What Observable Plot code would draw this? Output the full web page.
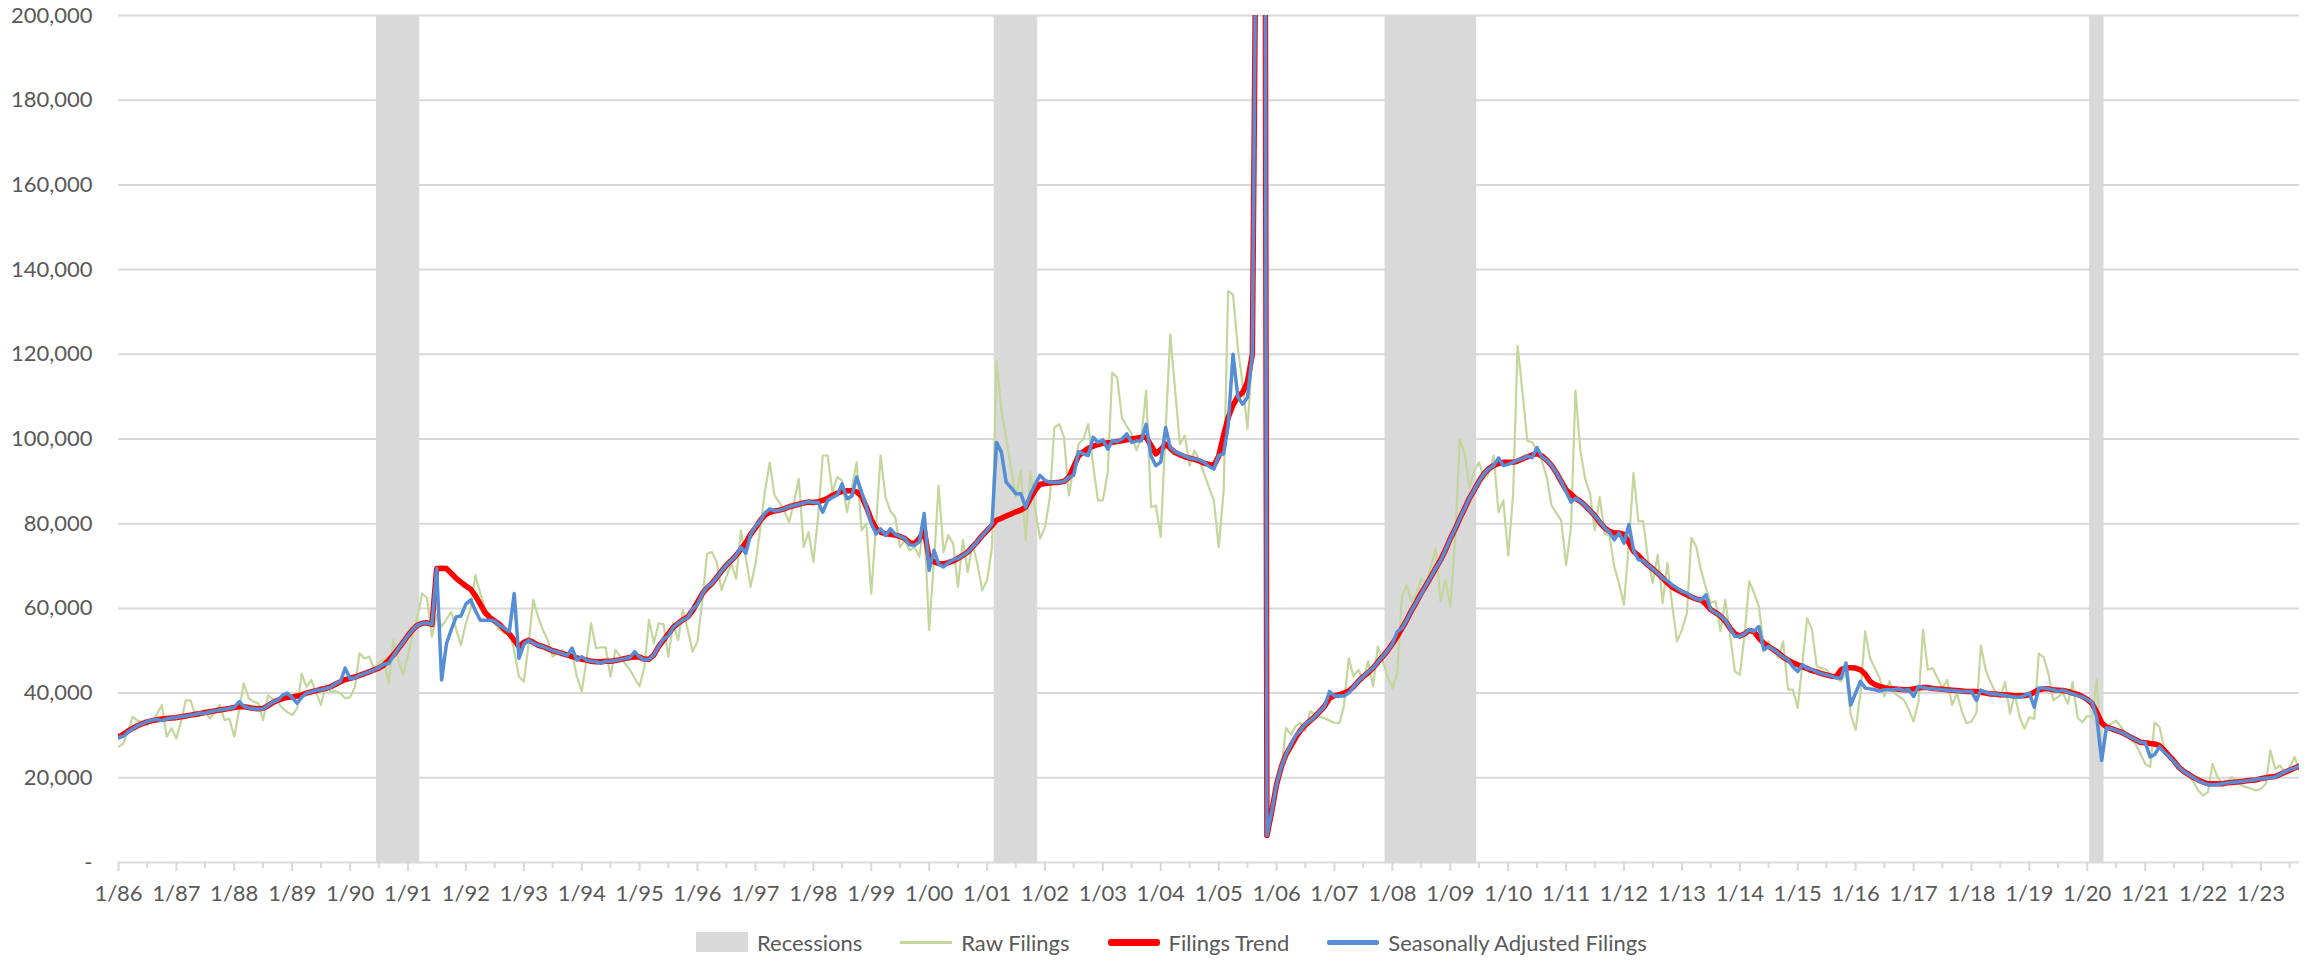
<!DOCTYPE html>
<html>
<head>
<meta charset="utf-8">
<script src="https://cdn.jsdelivr.net/npm/d3@7"></script>
<script src="https://cdn.jsdelivr.net/npm/@observablehq/plot@0.6"></script>
<style>
  html, body { margin: 0; padding: 0; background: #ffffff; }
  body { width: 2323px; height: 962px; overflow: hidden; font-family: Lato, "Open Sans", sans-serif; }
  #legend { display: flex; align-items: center; height: 30px; margin-left: 696px; margin-top: 12px; font-size: 22px; color: #595959; }
  .item { display: flex; align-items: center; margin-right: 38px; }
  .sw { width: 52px; margin-right: 9px; }
</style>
</head>
<body>
<div id="chart"></div>
<div id="legend"></div>
<script>
// Monthly series, in thousands of filings, starting January 1986 (one row per year)
const startMonth = "1986-01";

const rawFilings = [
  27.3, 28.1, 31.0, 34.4, 33.5, 33.2, 32.5, 33.2, 35.0, 37.2, 29.7, 31.7,
  29.3, 33.5, 38.3, 38.3, 34.4, 35.0, 35.6, 34.0, 35.5, 37.2, 33.6, 34.0,
  29.7, 36.0, 42.3, 38.8, 38.0, 37.6, 33.6, 39.5, 38.5, 37.8, 36.4, 35.5,
  34.8, 36.4, 44.6, 41.5, 43.1, 40.0, 37.2, 42.0, 40.3, 40.5, 39.9, 38.8,
  39.0, 41.5, 49.4, 48.2, 48.6, 45.8, 47.0, 48.0, 42.3, 52.5, 48.0, 44.3,
  49.0, 54.1, 58.0, 63.5, 62.4, 53.3, 58.5, 55.7, 57.5, 59.2, 55.0, 51.3,
  56.5, 60.0, 67.9, 63.5, 60.0, 58.5, 56.5, 55.0, 54.1, 55.0, 50.0, 43.9,
  42.7, 52.0, 62.0, 58.0, 54.9, 52.5, 48.6, 49.5, 50.2, 49.0, 49.5, 43.9,
  40.4, 48.0, 56.5, 50.6, 50.8, 50.8, 43.9, 50.2, 48.6, 47.0, 45.5, 43.5,
  41.6, 46.3, 57.3, 51.8, 56.5, 56.3, 48.6, 56.5, 52.5, 59.6, 54.9, 49.8,
  52.2, 62.0, 72.9, 73.3, 71.0, 64.3, 67.5, 70.6, 67.0, 78.4, 72.0, 65.1,
  70.6, 79.0, 87.5, 94.5, 86.7, 85.0, 83.1, 80.4, 85.0, 90.6, 74.5, 78.0,
  71.0, 82.0, 96.1, 96.1, 87.5, 91.0, 90.2, 82.7, 88.5, 94.5, 78.4, 80.0,
  63.5, 80.0, 96.1, 86.3, 83.0, 81.6, 74.5, 76.0, 73.7, 74.5, 72.2, 80.8,
  54.9, 71.4, 89.0, 73.3, 77.3, 75.3, 65.1, 76.1, 68.6, 75.3, 70.5, 64.3,
  66.7, 74.5, 118.4, 106.7, 100.4, 92.9, 86.3, 92.5, 76.1, 92.2, 83.1, 76.5,
  79.2, 86.3, 102.7, 103.5, 100.4, 86.7, 93.3, 98.8, 100.0, 103.5, 93.7, 85.5,
  85.5, 92.2, 115.7, 114.5, 105.1, 103.0, 101.2, 97.3, 100.4, 111.4, 83.9, 84.3,
  76.9, 102.0, 124.7, 111.4, 98.8, 100.8, 93.7, 97.3, 95.0, 91.8, 88.5, 85.5,
  74.5, 87.8, 134.9, 134.1, 121.6, 112.9, 102.4, 120.0, 260.0, 620.0, 6.4, 10.0,
  17.0, 22.0, 31.8, 30.2, 32.2, 32.9, 31.0, 35.7, 35.0, 34.4, 34.0, 33.5,
  33.0, 32.9, 36.9, 48.2, 43.9, 45.5, 43.1, 47.5, 41.6, 51.0, 47.8, 44.0,
  41.2, 44.7, 62.7, 65.5, 61.6, 63.5, 67.0, 65.9, 70.0, 74.1, 61.6, 66.7,
  60.4, 76.9, 100.0, 96.5, 88.6, 92.5, 94.5, 90.6, 91.8, 96.1, 82.7, 85.5,
  72.5, 87.1, 122.0, 111.0, 99.6, 99.2, 97.3, 94.9, 91.0, 84.3, 82.5, 80.8,
  70.2, 79.2, 111.4, 97.3, 90.6, 87.1, 78.4, 86.3, 77.6, 77.3, 69.8, 65.9,
  60.9, 75.3, 92.0, 80.6, 80.6, 71.5, 66.0, 72.7, 61.3, 70.7, 60.5, 52.2,
  55.0, 58.9, 76.6, 74.6, 69.0, 64.8, 61.3, 61.7, 54.6, 62.0, 53.4, 45.1,
  44.3, 54.2, 66.4, 63.6, 60.5, 51.0, 52.2, 50.0, 48.3, 52.2, 40.8, 40.8,
  36.5, 47.5, 57.7, 55.0, 46.3, 45.9, 45.5, 43.9, 43.5, 42.8, 44.7, 35.0,
  31.3, 40.0, 54.6, 48.3, 45.9, 43.5, 39.2, 42.8, 40.0, 39.2, 38.4, 36.1,
  33.3, 38.0, 55.0, 45.5, 45.9, 43.5, 41.2, 43.1, 37.2, 40.0, 35.7, 32.9,
  33.3, 35.3, 51.3, 45.4, 42.6, 40.2, 39.0, 42.6, 35.1, 39.8, 34.3, 31.6,
  34.3, 33.9, 49.3, 48.5, 44.6, 38.3, 39.1, 40.0, 37.5, 42.6, 34.3, 33.1,
  34.6, 34.3, 43.1, 24.9, 32.0, 32.8, 33.5, 32.0, 30.4, 29.0, 28.0, 25.7,
  23.3, 22.5, 33.1, 32.0, 26.9, 24.9, 23.5, 22.5, 21.8, 20.6, 19.0, 17.0,
  15.8, 16.6, 23.3, 20.2, 18.6, 19.0, 20.2, 19.0, 18.2, 17.8, 17.4, 17.0,
  17.4, 18.6, 26.5, 22.1, 22.9, 21.3, 22.5, 24.9, 21.7
];

const filingsTrend = [
  29.7, 30.3, 31.0, 31.7, 32.3, 32.8, 33.2, 33.5, 33.7, 33.9, 34.0, 34.1,
  34.2, 34.4, 34.6, 34.8, 35.0, 35.2, 35.4, 35.6, 35.8, 36.0, 36.2, 36.4,
  36.6, 36.8, 36.8, 36.6, 36.4, 36.3, 36.4, 37.0, 37.8, 38.3, 38.7, 39.0,
  39.1, 39.3, 39.6, 40.0, 40.3, 40.6, 40.9, 41.1, 41.5, 42.1, 42.7, 43.2,
  43.5, 43.8, 44.2, 44.6, 45.0, 45.5, 45.9, 46.6, 47.8, 49.0, 50.5, 52.0,
  53.6, 55.0, 56.0, 56.5, 56.6, 56.2, 69.4, 69.5, 69.4, 68.3, 67.1, 66.2,
  65.3, 64.5, 63.0, 61.0, 59.0, 57.8, 57.0, 56.2, 55.0, 54.0, 52.5, 51.0,
  52.0, 52.5, 52.0, 51.3, 51.0, 50.5, 50.0, 49.7, 49.3, 49.0, 48.6, 48.3,
  48.0, 47.8, 47.5, 47.4, 47.4, 47.5, 47.5, 47.7, 47.9, 48.2, 48.4, 48.6,
  48.5, 48.0, 48.0, 49.0, 51.0, 52.5, 54.0, 55.5, 56.5, 57.3, 58.0, 59.5,
  61.5, 63.5, 64.8, 65.9, 67.3, 68.8, 70.2, 71.3, 72.5, 74.0, 75.5, 77.5,
  79.0, 80.8, 82.0, 82.7, 83.0, 83.2, 83.5, 84.0, 84.3, 84.6, 84.9, 85.1,
  85.0, 85.2, 85.5, 86.0, 86.7, 87.2, 87.6, 87.8, 87.8, 87.5, 86.5, 84.0,
  81.0, 78.8, 78.0, 77.6, 77.5, 77.3, 77.0, 76.5, 75.5, 75.3, 76.5, 78.5,
  71.8, 71.0, 70.6, 70.5, 70.8, 71.2, 71.8, 72.5, 73.3, 74.5, 75.8, 77.2,
  78.4, 79.6, 80.8, 81.3, 81.8, 82.3, 82.8, 83.2, 83.9, 86.0, 88.0, 89.3,
  89.5, 89.6, 89.7, 89.8, 90.0, 91.0, 93.5, 96.0, 97.0, 97.8, 98.3, 98.7,
  99.0, 99.1, 99.2, 99.4, 99.6, 99.8, 100.0, 100.2, 100.4, 100.4, 98.5, 96.5,
  97.5, 98.8, 97.8, 96.8, 96.3, 95.8, 95.5, 95.2, 94.8, 94.3, 94.0, 93.7,
  96.0, 101.0, 105.0, 108.0, 110.0, 111.0, 113.5, 120.0, 260.0, 620.0, 6.4, 12.0,
  18.5, 22.7, 25.5, 27.5, 29.5, 31.2, 32.5, 33.5, 34.5, 35.7, 37.0, 38.8,
  39.4, 39.6, 40.0, 40.5, 41.5, 42.8, 43.9, 44.8, 45.9, 47.3, 48.6, 50.0,
  51.6, 53.4, 55.3, 57.3, 59.5, 61.5, 63.6, 65.5, 67.5, 69.5, 71.5, 73.8,
  76.5, 78.8, 81.2, 83.6, 86.0, 88.0, 90.0, 91.8, 93.0, 93.7, 94.2, 94.5,
  94.5, 94.5, 94.8, 95.3, 95.8, 96.2, 96.6, 96.0, 95.0, 93.8, 92.0, 90.0,
  88.0, 87.0, 86.0, 85.3, 84.3, 83.1, 81.9, 80.3, 79.0, 78.2, 77.8, 77.8,
  77.5, 75.5, 73.5, 72.5, 71.3, 70.2, 69.3, 68.3, 67.2, 66.0, 65.0, 64.4,
  63.8, 63.2, 62.7, 62.2, 62.0, 61.0, 59.7, 59.0, 58.2, 57.0, 55.3, 54.0,
  53.5, 54.0, 54.8, 54.5, 53.0, 51.8, 51.0, 50.3, 49.5, 48.5, 47.8, 47.2,
  46.7, 46.2, 45.8, 45.3, 45.0, 44.6, 44.3, 44.0, 43.9, 45.5, 46.0, 46.0,
  45.9, 45.5, 44.5, 42.8, 42.0, 41.6, 41.3, 41.1, 41.0, 40.9, 40.8, 40.8,
  41.0, 41.2, 41.3, 41.3, 41.1, 41.0, 40.9, 40.8, 40.7, 40.6, 40.5, 40.4,
  40.4, 40.4, 40.2, 40.0, 39.8, 39.8, 39.6, 39.6, 39.5, 39.4, 39.4, 39.4,
  39.6, 40.2, 40.8, 41.0, 41.0, 40.8, 40.7, 40.6, 40.4, 40.0, 39.7, 39.2,
  38.5, 37.5, 35.5, 33.0, 32.0, 31.6, 31.2, 30.8, 30.2, 29.6, 29.0, 28.4,
  28.3, 28.1, 28.0, 27.6, 26.5, 25.2, 24.0, 22.5, 21.5, 20.8, 20.1, 19.5,
  19.0, 18.6, 18.6, 18.6, 18.6, 18.8, 18.9, 19.0, 19.1, 19.3, 19.4, 19.5,
  19.8, 20.0, 20.2, 20.3, 20.8, 21.3, 21.8, 22.3, 22.8
];

const seasonallyAdjusted = [
  29.5, 29.8, 30.8, 31.6, 32.3, 32.8, 33.3, 33.6, 33.8, 33.5, 33.9, 34.1,
  34.2, 34.5, 34.6, 34.8, 35.0, 35.3, 35.2, 35.6, 35.8, 36.0, 36.2, 36.4,
  36.6, 38.0, 36.9, 36.5, 36.3, 36.2, 36.3, 37.1, 37.9, 38.3, 39.5, 40.0,
  38.9, 37.6, 39.0, 40.0, 40.3, 40.7, 40.8, 41.1, 41.4, 42.2, 42.8, 45.9,
  43.4, 43.6, 44.2, 44.6, 45.0, 45.5, 46.0, 46.8, 47.0, 48.8, 50.5, 52.0,
  53.6, 55.0, 56.0, 56.5, 56.6, 56.2, 69.4, 43.1, 51.7, 55.0, 58.0, 58.2,
  61.0, 62.0, 59.5, 57.2, 57.2, 57.2, 57.0, 56.0, 55.3, 54.5, 63.5, 48.2,
  51.5, 52.5, 51.8, 51.3, 51.0, 50.5, 50.0, 49.7, 49.3, 48.9, 50.6, 47.8,
  48.6, 47.8, 47.5, 47.4, 47.0, 47.5, 47.5, 47.7, 47.9, 48.2, 48.4, 49.8,
  48.5, 47.8, 48.0, 49.0, 51.0, 52.8, 53.5, 55.5, 56.5, 57.3, 57.8, 59.8,
  61.0, 63.5, 65.0, 65.9, 67.3, 68.8, 70.2, 71.3, 72.5, 74.5, 73.0, 77.5,
  79.3, 80.8, 82.5, 83.5, 83.0, 83.2, 83.5, 84.0, 84.3, 84.6, 84.9, 85.2,
  85.0, 85.0, 82.7, 85.5, 86.2, 86.8, 89.4, 85.9, 86.5, 91.0, 87.5, 84.0,
  80.0, 77.6, 78.8, 77.2, 78.8, 77.5, 77.0, 76.5, 75.0, 74.9, 75.7, 82.4,
  69.0, 73.7, 70.5, 69.8, 70.8, 71.5, 71.8, 72.5, 73.3, 74.5, 75.8, 77.2,
  78.5, 80.0, 99.2, 96.9, 89.8, 88.5, 87.1, 87.1, 83.9, 87.0, 89.4, 91.4,
  90.2, 89.8, 89.8, 89.8, 90.0, 91.0, 91.4, 97.0, 96.5, 96.1, 100.4, 99.2,
  99.8, 97.6, 99.6, 99.4, 100.0, 101.2, 99.2, 99.5, 99.6, 103.5, 96.0, 93.7,
  94.5, 102.7, 98.0, 97.0, 96.5, 96.0, 95.5, 95.3, 95.0, 94.5, 93.5, 92.9,
  96.1, 96.5, 103.0, 120.0, 110.0, 108.2, 109.8, 120.0, 260.0, 620.0, 6.4, 12.0,
  18.5, 22.7, 25.5, 27.8, 30.0, 31.2, 32.7, 33.5, 34.5, 35.7, 37.0, 40.4,
  39.3, 39.4, 39.3, 40.0, 41.5, 42.8, 43.9, 45.0, 45.9, 47.3, 48.6, 50.0,
  51.6, 54.5, 55.3, 57.3, 59.5, 61.5, 63.4, 65.5, 67.5, 69.5, 71.3, 73.8,
  76.5, 78.8, 81.2, 83.6, 86.0, 88.0, 90.0, 91.8, 93.0, 93.7, 95.5, 93.7,
  94.0, 94.5, 95.0, 95.3, 96.0, 95.6, 98.0, 95.8, 95.0, 93.8, 92.0, 90.0,
  87.5, 85.1, 86.0, 85.3, 84.3, 83.1, 81.9, 80.5, 79.0, 78.0, 76.2, 77.8,
  75.4, 79.8, 73.8, 71.5, 71.3, 70.2, 69.3, 68.3, 67.2, 66.5, 65.5, 64.8,
  64.0, 63.6, 62.8, 62.2, 62.0, 63.2, 59.7, 59.0, 58.2, 57.2, 55.3, 53.4,
  53.4, 54.0, 55.0, 54.6, 55.7, 50.2, 51.0, 50.3, 49.4, 48.5, 47.8, 46.2,
  45.1, 46.7, 45.8, 45.6, 45.0, 44.6, 44.3, 44.0, 43.6, 43.5, 47.1, 37.2,
  40.0, 42.8, 41.2, 41.0, 40.8, 40.5, 40.8, 40.8, 40.8, 41.0, 40.6, 40.8,
  39.2, 41.6, 41.3, 41.1, 41.0, 40.9, 40.8, 40.7, 40.6, 40.5, 40.4, 40.4,
  40.4, 38.3, 40.7, 40.2, 39.8, 39.8, 39.6, 39.5, 39.2, 39.1, 39.0, 39.4,
  40.0, 36.7, 41.2, 41.2, 41.0, 40.8, 40.4, 40.7, 40.2, 39.8, 39.4, 39.1,
  38.5, 37.8, 34.3, 24.1, 31.8, 31.6, 31.2, 30.8, 30.2, 29.6, 29.0, 28.4,
  28.3, 24.9, 25.5, 27.3, 26.0, 25.0, 23.8, 22.5, 21.5, 20.8, 20.1, 19.3,
  18.8, 18.4, 18.3, 18.4, 18.6, 18.8, 18.9, 19.0, 19.1, 19.3, 19.4, 19.6,
  19.8, 19.9, 20.0, 20.2, 20.8, 21.4, 21.9, 22.3, 22.8
];

// NBER recessions (first and last month)
const recessions = [
  ["1990-07", "1991-03"],
  ["2001-03", "2001-11"],
  ["2007-12", "2009-06"],
  ["2020-02", "2020-04"]
];

const yTickValues = [0, 20000, 40000, 60000, 80000, 100000, 120000, 140000, 160000, 180000, 200000];
const seriesNames = ["Recessions", "Raw Filings", "Filings Trend", "Seasonally Adjusted Filings"];
const colors = { recession: "#d9d9d9", raw: "#c3d69b", trend: "#ff0000", sa: "#558ed5", grid: "#d9d9d9", text: "#595959" };

const parseMonth = d3.utcParse("%Y-%m");
const t0 = parseMonth(startMonth);
const monthAt = i => d3.utcMonth.offset(t0, i);
const toRows = arr => arr.map((v, i) => ({date: monthAt(i), value: v * 1000}));
const rawRows = toRows(rawFilings);
const trendRows = toRows(filingsTrend);
const saRows = toRows(seasonallyAdjusted);
const lastDate = monthAt(rawFilings.length - 1);

const mid = (a, b) => new Date((+a + +b) / 2);
const recRows = recessions.map(([s, e]) => {
  const sd = parseMonth(s), ed = parseMonth(e);
  return {x1: mid(d3.utcMonth.offset(sd, -1), sd), x2: mid(ed, d3.utcMonth.offset(ed, 1))};
});

const yearTicks = d3.utcYear.range(t0, d3.utcMonth.offset(lastDate, 1));
const midTicks = yearTicks.map(d => d3.utcMonth.offset(d, 6)).filter(d => d <= lastDate);

const chart = Plot.plot({
  width: 2323,
  height: 915,
  marginLeft: 118,
  marginRight: 24,
  marginTop: 15,
  marginBottom: 53,
  style: { fontFamily: "Lato, 'Open Sans', sans-serif", fontSize: "22px", color: colors.text, background: "#ffffff" },
  x: { type: "utc", domain: [t0, lastDate] },
  y: { domain: [0, 200000] },
  marks: [
    Plot.gridY(yTickValues, { stroke: colors.grid, strokeOpacity: 1, strokeWidth: 2 }),
    Plot.rect(recRows, { x1: "x1", x2: "x2", fill: colors.recession }),
    Plot.axisX(midTicks, { tickSize: 6, text: null, stroke: colors.grid, strokeWidth: 2 }),
    Plot.axisX(yearTicks, { tickSize: 9, tickPadding: 14, tickFormat: d3.utcFormat("%-m/%y"), stroke: colors.grid, strokeWidth: 2, fill: colors.text, label: null }),
    Plot.axisY(yTickValues, { tickSize: 0, tickPadding: 26, tickFormat: d => d === 0 ? "-" : d3.format(",")(d), fill: colors.text, label: null }),
    Plot.line(rawRows, { x: "date", y: "value", stroke: colors.raw, strokeWidth: 2.2, clip: true }),
    Plot.line(trendRows, { x: "date", y: "value", stroke: colors.trend, strokeWidth: 5.5, clip: true }),
    Plot.line(saRows, { x: "date", y: "value", stroke: colors.sa, strokeWidth: 3.5, clip: true })
  ]
});
document.getElementById("chart").appendChild(chart);

// Legend
const legend = document.getElementById("legend");
const swatches = [
  `<div class="sw" style="height:20px;background:${colors.recession}"></div>`,
  `<div class="sw" style="height:3px;background:${colors.raw}"></div>`,
  `<div class="sw" style="height:7px;border-radius:3px;background:${colors.trend}"></div>`,
  `<div class="sw" style="height:5px;border-radius:2px;background:${colors.sa}"></div>`
];
seriesNames.forEach((name, i) => {
  const item = document.createElement("div");
  item.className = "item";
  item.innerHTML = swatches[i] + `<span>${name}</span>`;
  legend.appendChild(item);
});
</script>
</body>
</html>
